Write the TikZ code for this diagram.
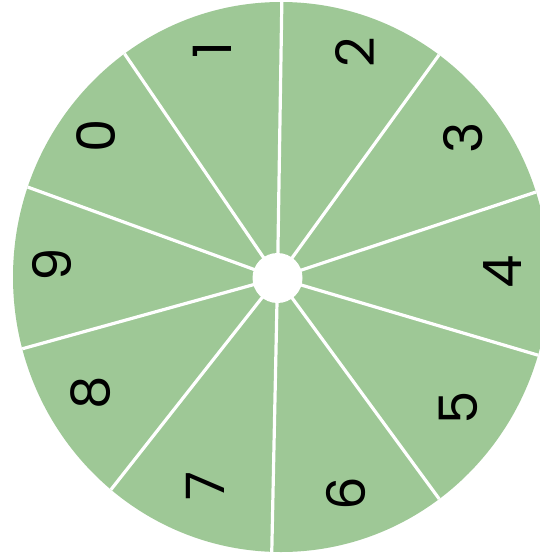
\documentclass[tikz,border=0pt]{standalone}
\usepackage{fontspec}
\setmainfont{Poppins}
\begin{document}
\begin{tikzpicture}[x=1pt,y=-1pt]
\definecolor{sector}{RGB}{158,200,150}
\tikzset{
  digit/.style={font=\fontsize{53}{53}\selectfont, rotate=90, inner sep=0pt, text=black},
  sep/.style={draw=white, line width=3.2pt}
}
\useasboundingbox (0,0) rectangle (540,557);
\fill[white] (0,0) rectangle (540,557);
\begin{scope}
  \clip (0,0) rectangle (540,557);
  \fill[sector] (281,277) ellipse [x radius=268, y radius=275];
\end{scope}
\coordinate (c) at (277.5,278);
\begin{scope}
  \clip (281,277) ellipse [x radius=268, y radius=275];
  \foreach \a in {89.1,54.1,18.4,-16.5,-53.8,-91.2,-128.2,-164.5,160,124.3}
    \draw[sep] (c) -- ++(-\a:330);
\end{scope}
\node[circle, fill=white, minimum size=50pt, inner sep=0pt] (hole) at (c) {};
\node[digit] (d1) at (212,50) {1};
\node[digit] (d2) at (355,52) {2};
\node[digit] (d3) at (463,138) {3};
\node[digit] (d4) at (503,272) {4};
\node[digit] (d5) at (458,408) {5};
\node[digit] (d6) at (346,494) {6};
\node[digit] (d7) at (205,486) {7};
\node[digit] (d8) at (91,393) {8};
\node[digit] (d9) at (52,265) {9};
\node[digit] (d0) at (96,136) {0};
\end{tikzpicture}
\end{document}
